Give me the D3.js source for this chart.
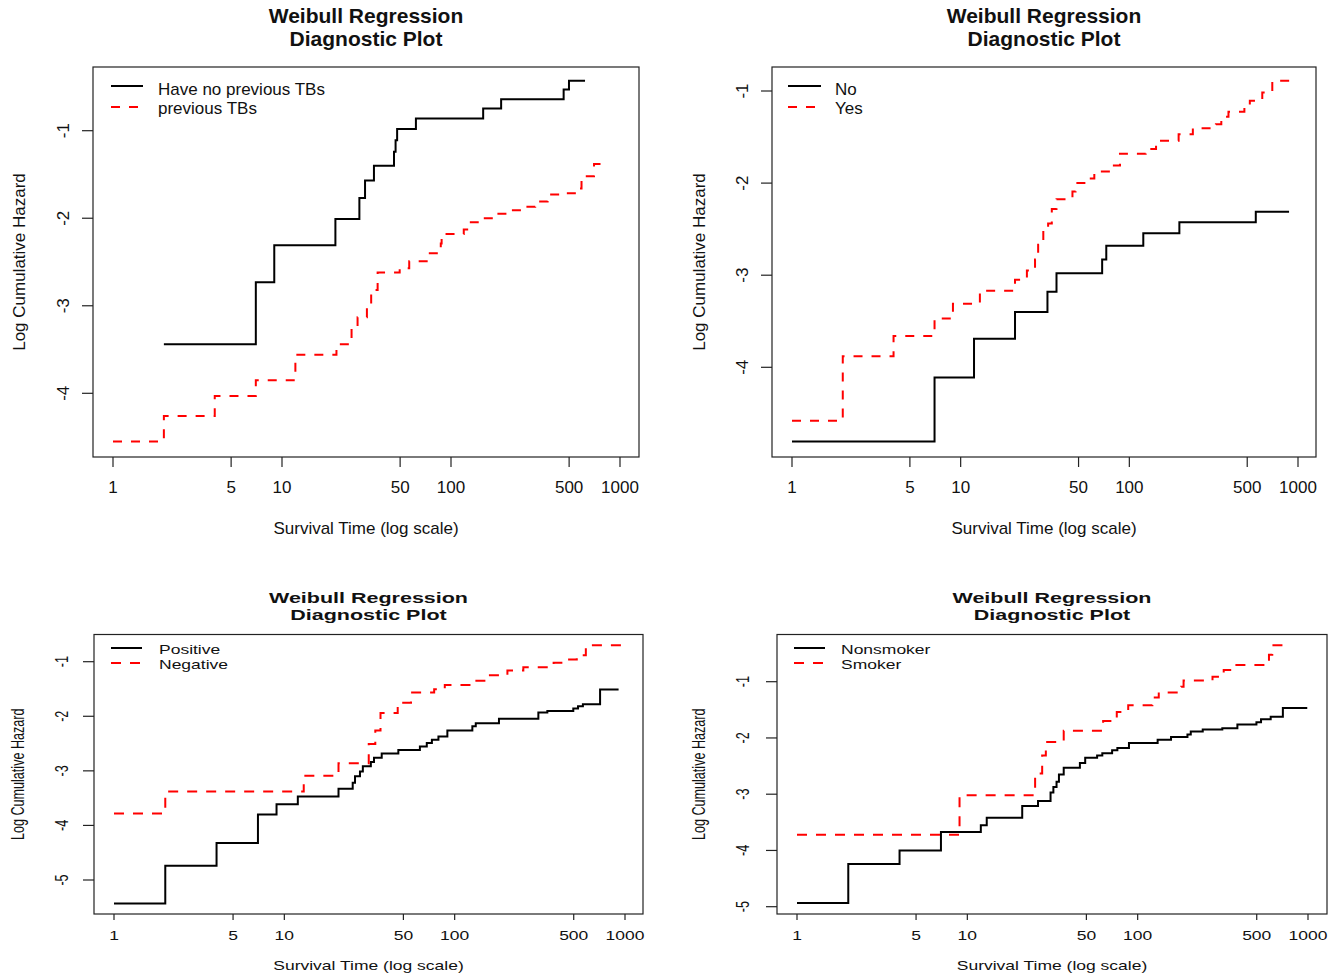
<!DOCTYPE html>
<html>
<head>
<meta charset="utf-8">
<script src="https://cdn.jsdelivr.net/npm/d3@7"></script>
<style>
  body { margin: 0; background: #fff; }
  svg { display: block; }
  text { font-family: "Liberation Sans", Arial, sans-serif; fill: #111; }
</style>
</head>
<body>
<main></main>
<script>
// Textos comunes
const titleLines = ["Weibull Regression", "Diagnostic Plot"];
const xTitle = "Survival Time (log scale)";
const yTitle = "Log Cumulative Hazard";
const xTicks = [1, 5, 10, 50, 100, 500, 1000];
const yTicksTop = [-1, -2, -3, -4];
const yTicksBottom = [-1, -2, -3, -4, -5];

// Panel 1: TB previa
const tbLabels = ["Have no previous TBs", "previous TBs"];
const tbNoTime = [2, 7, 9, 20.7, 28.7, 31, 35, 46, 47, 48, 62, 155, 198, 464, 499, 621];
const tbNoHaz = [-3.44, -2.73, -2.31, -2.01, -1.77, -1.57, -1.40, -1.24, -1.11, -0.98, -0.86, -0.745, -0.64, -0.53, -0.43, -0.43];
const tbYesTime = [1, 2, 4, 7, 12, 21, 25.8, 28, 31.8, 33.7, 36.8, 49.7, 56.6, 73, 87, 88, 119, 131, 150, 184, 219, 265, 315, 373, 442, 550, 592, 702, 865];
const tbYesHaz = [-4.55, -4.26, -4.03, -3.85, -3.56, -3.44, -3.24, -3.13, -3.01, -2.82, -2.62, -2.57, -2.49, -2.40, -2.29, -2.18, -2.13, -2.045, -2.0, -1.95, -1.91, -1.87, -1.81, -1.73, -1.715, -1.66, -1.52, -1.38, -1.38];

// Panel 2: No / Yes
const ynLabels = ["No", "Yes"];
const noTime = [1, 7, 12, 21, 32.7, 37, 69, 73, 121, 198, 562, 885];
const noHaz = [-4.805, -4.11, -3.69, -3.40, -3.18, -2.98, -2.83, -2.68, -2.545, -2.425, -2.31, -2.31];
const yesTime = [1, 2, 4, 7, 9, 13, 21, 24.7, 27.6, 28.8, 30.9, 33, 34.7, 37, 46, 48, 56.5, 62, 78.7, 88, 125, 144, 196, 238, 326, 351, 387, 481, 518, 614, 704, 929];
const yesHaz = [-4.58, -3.88, -3.66, -3.47, -3.31, -3.17, -3.05, -2.95, -2.83, -2.67, -2.51, -2.44, -2.28, -2.175, -2.09, -2.0, -1.95, -1.875, -1.81, -1.68, -1.63, -1.54, -1.47, -1.405, -1.36, -1.28, -1.225, -1.17, -1.105, -1.015, -0.89, -0.89];

// Panel 3: Positive / Negative
const pnLabels = ["Positive", "Negative"];
const posTime = [1, 2, 4, 7, 9, 12, 20.8, 25.2, 26, 27.8, 28.9, 32.2, 33.6, 37.3, 46.7, 62.5, 68.6, 73.5, 80.3, 90.6, 127, 133, 182, 310, 350, 497, 530, 566, 714, 917];
const posHaz = [-5.43, -4.74, -4.32, -3.80, -3.61, -3.47, -3.33, -3.22, -3.10, -3.01, -2.915, -2.84, -2.76, -2.68, -2.62, -2.555, -2.49, -2.43, -2.37, -2.26, -2.185, -2.13, -2.045, -1.93, -1.905, -1.857, -1.815, -1.78, -1.51, -1.51];
const negTime = [1, 2, 13, 20.8, 31.3, 34.2, 36.7, 46.3, 55.4, 75.8, 87.5, 129, 155, 204, 253, 381, 441, 521, 589, 977];
const negHaz = [-3.78, -3.38, -3.09, -2.86, -2.51, -2.26, -1.94, -1.75, -1.565, -1.505, -1.425, -1.35, -1.25, -1.16, -1.10, -1.02, -0.96, -0.88, -0.70, -0.70];

// Panel 4: fumadores
const smLabels = ["Nonsmoker", "Smoker"];
const nonTime = [1, 2, 4, 7, 12, 13, 21, 26, 30.8, 32, 33.4, 34.5, 36.8, 45.8, 49.2, 57.8, 62, 70.8, 76, 88.9, 131, 157, 196, 205, 241, 314, 385, 498, 530, 604, 712, 990];
const nonHaz = [-4.935, -4.24, -4.0, -3.67, -3.55, -3.42, -3.21, -3.12, -2.97, -2.87, -2.78, -2.65, -2.53, -2.445, -2.35, -2.31, -2.27, -2.22, -2.18, -2.09, -2.03, -1.985, -1.94, -1.885, -1.85, -1.826, -1.76, -1.72, -1.667, -1.625, -1.466, -1.466];
const smkTime = [1, 9, 25, 27.5, 28.9, 36.8, 62.7, 75.4, 88, 122, 133, 180, 186, 275, 320, 355, 567, 590, 617, 795];
const smkHaz = [-3.72, -3.02, -2.63, -2.31, -2.07, -1.87, -1.70, -1.54, -1.42, -1.28, -1.19, -1.09, -0.98, -0.91, -0.79, -0.705, -0.64, -0.52, -0.35, -0.35];

// Disposición de cada panel
const arriba = { sy: 1, fs: 17, tfs: 21, titleY: [22.5, 46], xLabY: 493, xTitY: 534, tickX: 10, tickY: 11, dash: "9,9" };
const abajo = { sy: 0.72, fs: 17.5, tfs: 21.5, titleY: [603, 619.5], xLabY: 940, xTitY: 969.5, tickX: 6, tickY: 11, dash: "10,9" };

const panels = [
  Object.assign({}, arriba, {
    series: [[tbNoTime, tbNoHaz], [tbYesTime, tbYesHaz]], labels: tbLabels, yTicks: yTicksTop,
    box: [93, 67, 639, 457], xr: [113, 620], yr: [130.7, 393.3], yd: [-1, -4],
    yLabX: 69, yTitX: 25, legLine: [111, 143], legText: 158, legY: [86, 107], legBase: [95, 114]
  }),
  Object.assign({}, arriba, {
    series: [[noTime, noHaz], [yesTime, yesHaz]], labels: ynLabels, yTicks: yTicksTop,
    box: [772, 67, 1316, 457], xr: [792, 1298], yr: [91, 367.3], yd: [-1, -4],
    yLabX: 748, yTitX: 705, legLine: [788, 821], legText: 835, legY: [86, 107], legBase: [95, 114]
  }),
  Object.assign({}, abajo, {
    series: [[posTime, posHaz], [negTime, negHaz]], labels: pnLabels, yTicks: yTicksBottom,
    box: [94, 634.5, 643, 914], xr: [114, 625], yr: [661.7, 880], yd: [-1, -5],
    yLabX: 68, yTitX: 24, legLine: [111, 142], legText: 159, legY: [648, 663], legBase: [654.3, 668.5]
  }),
  Object.assign({}, abajo, {
    series: [[nonTime, nonHaz], [smkTime, smkHaz]], labels: smLabels, yTicks: yTicksBottom,
    box: [777, 634.5, 1327, 914], xr: [797, 1308], yr: [681.7, 906.7], yd: [-1, -5],
    yLabX: 749, yTitX: 705, legLine: [794, 825], legText: 841, legY: [648, 663], legBase: [654.3, 668.5]
  })
];

const colores = ["#000000", "#ff0000"];

const svg = d3.select("main")
  .append("svg")
  .attr("width", 1343)
  .attr("height", 977);

// Texto con escala vertical (los paneles de abajo están comprimidos)
function texto(g, x, y, s, p, opts) {
  const rot = opts.rot ? " rotate(-90)" : "";
  return g.append("text")
    .attr("transform", `translate(${x},${y}) scale(1,${p.sy})${rot}`)
    .attr("text-anchor", opts.anchor || "middle")
    .style("font-size", (opts.size || p.fs) + "px")
    .style("font-weight", opts.bold ? "bold" : "normal")
    .text(s);
}

panels.forEach(p => {
  const g = svg.append("g");
  const [x0, y0, x1, y1] = p.box;

  const x = d3.scaleLog().domain([1, 1000]).range(p.xr);
  const y = d3.scaleLinear().domain(p.yd).range(p.yr);

  // Caja
  g.append("rect")
    .attr("x", x0).attr("y", y0)
    .attr("width", x1 - x0).attr("height", y1 - y0)
    .attr("fill", "none").attr("stroke", "#222").attr("stroke-width", 1.2);

  // Eje X
  xTicks.forEach(t => {
    g.append("line")
      .attr("x1", x(t)).attr("x2", x(t))
      .attr("y1", y1).attr("y2", y1 + p.tickX)
      .attr("stroke", "#222").attr("stroke-width", 1.2);
    texto(g, x(t), p.xLabY, String(t), p, {});
  });
  texto(g, (x0 + x1) / 2, p.xTitY, xTitle, p, {});

  // Eje Y
  p.yTicks.forEach(v => {
    g.append("line")
      .attr("x1", x0 - p.tickY).attr("x2", x0)
      .attr("y1", y(v)).attr("y2", y(v))
      .attr("stroke", "#222").attr("stroke-width", 1.2);
    texto(g, p.yLabX, y(v), String(v), p, { rot: true });
  });
  texto(g, p.yTitX, (y0 + y1) / 2, yTitle, p, { rot: true });

  // Título
  titleLines.forEach((s, i) => {
    texto(g, (x0 + x1) / 2, p.titleY[i], s, p, { bold: true, size: p.tfs });
  });

  // Curvas escalonadas
  const linea = d3.line()
    .x(d => x(d[0]))
    .y(d => y(d[1]))
    .curve(d3.curveStepAfter);

  p.series.forEach(([tiempos, haz], i) => {
    g.append("path")
      .datum(tiempos.map((t, k) => [t, haz[k]]))
      .attr("d", linea)
      .attr("fill", "none")
      .attr("stroke", colores[i])
      .attr("stroke-width", 2)
      .attr("stroke-dasharray", i === 1 ? p.dash : null);
  });

  // Leyenda
  p.labels.forEach((s, i) => {
    g.append("line")
      .attr("x1", p.legLine[0]).attr("x2", p.legLine[1])
      .attr("y1", p.legY[i]).attr("y2", p.legY[i])
      .attr("stroke", colores[i]).attr("stroke-width", 2)
      .attr("stroke-dasharray", i === 1 ? p.dash : null);
    texto(g, p.legText, p.legBase[i], s, p, { anchor: "start" });
  });
});
</script>
</body>
</html>
